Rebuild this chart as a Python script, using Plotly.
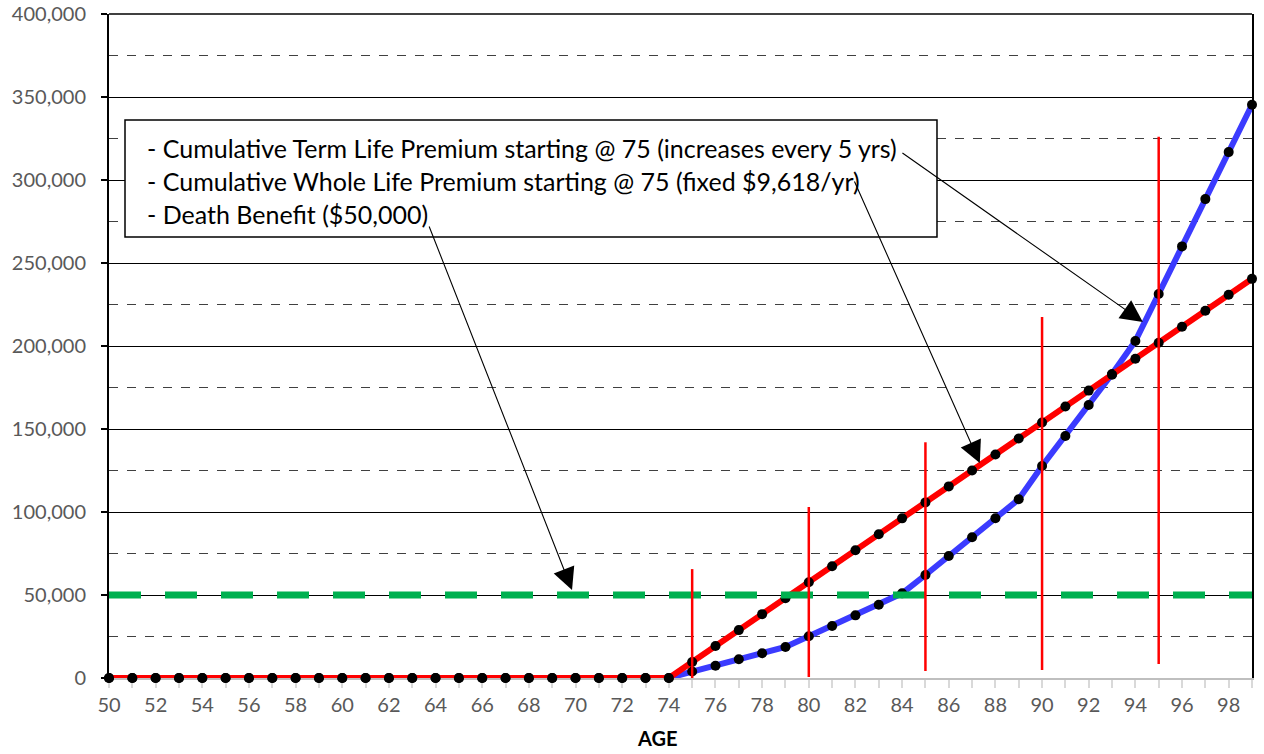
import plotly.graph_objects as go

ages = list(range(50, 100))

term_cum = [0] * 25 + [
    3900, 7400, 11260, 14870, 18670,
    25100, 31330, 37750, 44170, 51000,
    62050, 73500, 84750, 96200, 107650,
    127700, 145800, 164500, 183100, 203000,
    231300, 260000, 288500, 316800, 345300,
]
whole_cum = [0] * 25 + [
    9618, 19236, 28854, 38472, 48090,
    57708, 67326, 76944, 86562, 96180,
    105798, 115416, 125034, 134652, 144270,
    153888, 163506, 173124, 182742, 192360,
    201978, 211596, 221214, 230832, 240450,
]
death_benefit = [50000] * 50

legend_lines = [
    "- Cumulative Term Life Premium starting @ 75 (increases every 5 yrs)",
    "- Cumulative Whole Life Premium starting @ 75 (fixed $9,618/yr)",
    "- Death Benefit ($50,000)",
]

# red step markers (age, bottom, top)
step_ages = [75, 80, 85, 90, 95]
step_bottoms = [-1200, 600, 4200, 4800, 8400]
step_tops = [65600, 103000, 142000, 217500, 326000]

# arrows: tail (age, value) -> head (age, value)
arrow_tails = [(83.95, 316900), (81.93, 300000), (63.7, 272900)]
arrow_heads = [(94.32, 214500), (87.33, 129500), (69.85, 53000)]

y_ticks = list(range(0, 400001, 50000))
x_ticks = list(range(50, 99, 2))

FONT = "Lato"
GREY = "#595959"

fig = go.Figure()
fig.add_trace(go.Scatter(
    x=ages, y=term_cum, mode="lines+markers",
    line=dict(color="#3B3BFF", width=6),
    marker=dict(color="black", size=10),
    cliponaxis=False, showlegend=False))
fig.add_trace(go.Scatter(
    x=ages, y=whole_cum, mode="lines+markers",
    line=dict(color="#FF0000", width=6),
    marker=dict(color="black", size=10),
    cliponaxis=False, showlegend=False))
fig.add_trace(go.Scatter(
    x=ages, y=death_benefit, mode="lines",
    line=dict(color="#00B050", width=7, dash="32px,24px"),
    cliponaxis=False, showlegend=False))

shapes = []
for a, b, t in zip(step_ages, step_bottoms, step_tops):
    shapes.append(dict(type="line", xref="x", yref="y", x0=a, x1=a, y0=b, y1=t,
                       line=dict(color="#FF0000", width=2.5), layer="above"))
# top frame line
shapes.append(dict(type="line", xref="paper", yref="paper", x0=0, x1=1, y0=1, y1=1,
                   line=dict(color="black", width=1.5)))
# legend text box
shapes.append(dict(type="rect", xref="paper", yref="paper",
                   x0=0.0140, x1=0.7244, y0=0.6642, y1=0.8404,
                   fillcolor="white", line=dict(color="black", width=1.5), layer="above"))

annotations = []
for (ta, tv), (ha, hv) in zip(arrow_tails, arrow_heads):
    annotations.append(dict(x=ha, y=hv, ax=ta, ay=tv, xref="x", yref="y",
                            axref="x", ayref="y", text="", showarrow=True,
                            arrowhead=2, arrowsize=4, arrowwidth=1.1,
                            arrowcolor="black"))
line_y = [0.7982, 0.7485, 0.6988]
for txt, yy in zip(legend_lines, line_y):
    annotations.append(dict(x=0.0315, y=yy, xref="paper", yref="paper",
                            xanchor="left", yanchor="middle", showarrow=False,
                            text=txt, font=dict(family=FONT, size=25, color="black")))
annotations.append(dict(x=0.4794, y=-0.0904, xref="paper", yref="paper",
                        xanchor="center", yanchor="middle", showarrow=False,
                        text="<b>AGE</b>", font=dict(family=FONT, size=20, color="black")))

fig.update_layout(
    width=1264, height=754,
    margin=dict(l=109, r=12, t=14, b=76, autoexpand=False),
    plot_bgcolor="white", paper_bgcolor="white",
    font=dict(family=FONT, size=20, color=GREY),
    shapes=shapes, annotations=annotations,
    xaxis=dict(range=[50, 99], tickvals=x_ticks, ticktext=[str(v) for v in x_ticks],
               automargin=False, layer="below traces",
               showgrid=False, zeroline=False,
               showline=True, linecolor="#BFBFBF", linewidth=2,
               ticks="outside", ticklen=8, tickcolor="#D9D9D9", tickwidth=2,
               minor=dict(dtick=1, tick0=50, ticks="outside", ticklen=8,
                          tickcolor="#D9D9D9", tickwidth=2),
               tickfont=dict(family=FONT, size=20, color=GREY)),
    yaxis=dict(range=[0, 400000], tickvals=y_ticks, tickformat=",",
               automargin=False, layer="below traces",
               showgrid=True, gridcolor="black", gridwidth=1,
               zeroline=False, showline=True, linecolor="black", linewidth=2,
               mirror=True, ticklabelstandoff=11,
               ticks="outside", ticklen=6, tickcolor="black", tickwidth=1.5,
               minor=dict(dtick=25000, tick0=0, showgrid=True, gridcolor="#404040",
                          griddash="dash", gridwidth=1),
               tickfont=dict(family=FONT, size=20, color=GREY)),
)

# remove the browser's default 8px body margin so the figure sits at (0, 0)
fig.write_html("out.html", config={"displayModeBar": False},
               post_script="document.body.style.margin='0';document.body.style.overflow='hidden';")
